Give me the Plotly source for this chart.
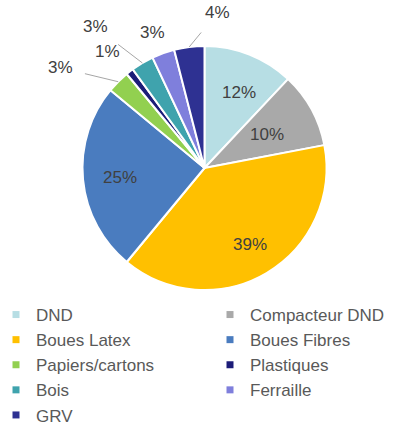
import math
import plotly.graph_objects as go

labels = ["DND", "Compacteur DND", "Boues Latex", "Boues Fibres", "Papiers/cartons",
          "Plastiques", "Bois", "Ferraille", "GRV"]
values = [12, 10, 39, 25, 3, 1, 3, 3, 4]
colors = ["#b7dee4", "#a9a9a9", "#ffc000", "#4a7cbf", "#92d050",
          "#1c1c78", "#3fa3ad", "#7f7fdc", "#2e3192"]

W, H = 412, 425
cx, cy, R = 204.5, 168, 122  # pie centre / radius in px (top-left origin)
FONT = "Liberation Sans, Arial, sans-serif"

total = sum(values)

fig = go.Figure()
fig.add_trace(go.Pie(
    labels=labels, values=values, sort=False, direction="clockwise", rotation=0,
    marker=dict(colors=colors, line=dict(color="white", width=2)),
    textinfo="none",
    domain=dict(x=[(cx - R) / W, (cx + R) / W], y=[(H - cy - R) / H, (H - cy + R) / H]),
    hoverinfo="label+percent", showlegend=False,
))

# legend entries in two columns (row-major order, as in the source)
for i, (lab, col) in enumerate(zip(labels, colors)):
    fig.add_trace(go.Scatter(
        x=[None], y=[None], mode="markers", name=lab,
        marker=dict(symbol="square", size=7, color=col),
        legend="legend" if i % 2 == 0 else "legend2", legendgroup=lab,
        hoverinfo="skip",
    ))

# data labels placed along each slice's mid-angle (computed from the values)
inside_radius = {0: 0.77, 1: 0.76, 2: 0.73, 3: 0.85}
outside_offsets = {4: (-58, -14, True), 5: (-22, -20, False), 6: (-47, -36, True),
                   7: (-11, -21, False), 8: (28, -34, True)}
annotations = []
cum = 0
for i, v in enumerate(values):
    mid = (cum + v / 2) / total * 2 * math.pi
    cum += v
    lab_font = dict(family=FONT, size=17, color="#404040")
    if i in inside_radius:
        r = R * inside_radius[i]
        px, py = cx + r * math.sin(mid), cy - r * math.cos(mid)
        annotations.append(dict(x=px / W, y=1 - py / H, xref="paper", yref="paper",
                                text=f"{v}%", showarrow=False, font=lab_font))
    else:
        ax, ay, line = outside_offsets[i]
        px, py = cx + R * math.sin(mid), cy - R * math.cos(mid)
        annotations.append(dict(
            x=px / W, y=1 - py / H, xref="paper", yref="paper",
            text=f"{v}%", showarrow=True, ax=ax, ay=ay, arrowhead=0, arrowwidth=1,
            arrowcolor="#a6a6a6" if line else "rgba(0,0,0,0)", standoff=0, startstandoff=11,
            font=lab_font,
        ))

legend_style = dict(orientation="v", xanchor="left", y=1 - 297 / H, yanchor="top",
                    traceorder="normal", tracegroupgap=0, bgcolor="rgba(0,0,0,0)",
                    font=dict(family=FONT, size=17, color="#595959"), itemclick=False)

fig.update_layout(
    width=W, height=H, margin=dict(l=0, r=0, t=0, b=0, autoexpand=False),
    paper_bgcolor="white", plot_bgcolor="white",
    xaxis=dict(visible=False), yaxis=dict(visible=False),
    annotations=annotations,
    showlegend=True,
    legend=dict(x=-4 / W, **legend_style),
    legend2=dict(x=210 / W, **legend_style),
)

fig.write_html("out.html", config={"displayModeBar": False},
               post_script="document.body.style.margin='0';document.body.style.overflow='hidden';")
